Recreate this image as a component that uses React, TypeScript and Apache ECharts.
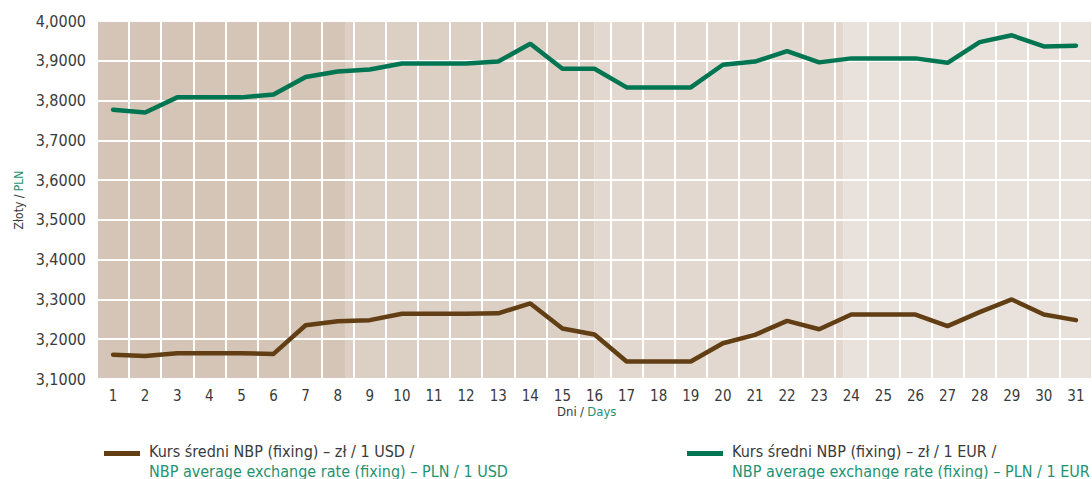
import React, { useEffect, useRef } from "react";
import * as echarts from "echarts";

const days = ["1","2","3","4","5","6","7","8","9","10","11","12","13","14","15","16","17","18","19","20","21","22","23","24","25","26","27","28","29","30","31"];

const usd = [3.161,3.158,3.165,3.165,3.165,3.163,3.235,3.245,3.248,3.264,3.264,3.264,3.265,3.290,3.227,3.212,3.144,3.144,3.144,3.190,3.211,3.246,3.225,3.262,3.262,3.262,3.233,3.268,3.300,3.262,3.248];

const eur = [3.777,3.770,3.808,3.808,3.808,3.815,3.859,3.873,3.878,3.893,3.893,3.893,3.898,3.943,3.880,3.880,3.833,3.833,3.833,3.890,3.898,3.924,3.896,3.906,3.906,3.906,3.895,3.947,3.964,3.936,3.938];

const bandStarts = [0, 7.75, 15.5, 23.25];
const bandEnds = [7.75, 15.5, 23.25, 31];
const bandColors = ["#d5c5b7", "#dcd0c4", "#e2d8cf", "#e9e2dc"];

const usdName = "Kurs średni NBP (fixing) – zł / 1 USD /\nNBP average exchange rate (fixing) – PLN / 1 USD";
const eurName = "Kurs średni NBP (fixing) – zł / 1 EUR /\nNBP average exchange rate (fixing) – PLN / 1 EUR";

const FONT = "'Liberation Sans Narrow', 'DejaVu Sans Condensed', 'Roboto Condensed', sans-serif";
const DARK = "#3a3a3a";
const GREEN_TXT = "#1f9272";
const BROWN = "#623e14";
const GREEN = "#007552";

const legendIcon = "path://M0 0H36V5H0Z M0 20";

function legendBase(name: string, left: number) {
  return {
    data: [name],
    left,
    top: 438,
    orient: "horizontal",
    icon: legendIcon,
    itemWidth: 36,
    itemHeight: 20,
    selectedMode: false,
    formatter: (n: string) => {
      const [a, b] = n.split("\n");
      return `{a|${a}}\n{b|${b}}`;
    },
    textStyle: {
      fontFamily: FONT,
      rich: {
        a: { color: DARK, fontSize: 16, lineHeight: 20, fontFamily: FONT, padding: [0, 0, 0, 4] },
        b: { color: GREEN_TXT, fontSize: 16, lineHeight: 20, fontFamily: FONT, padding: [0, 0, 0, 4] },
      },
    },
  };
}

export default function App() {
  const ref = useRef<HTMLDivElement>(null);
  useEffect(() => {
    document.body.style.margin = "0";
    const chart = echarts.init(ref.current!, undefined, { renderer: "svg" });
    const yMin = 3.1;
    const yMax = 4.0;
    chart.setOption({
      animation: false,
      backgroundColor: "#ffffff",
      textStyle: { fontFamily: FONT },
      grid: { left: 97, right: 0, top: 21, bottom: 100, containLabel: false },
      legend: [legendBase(usdName, 99), legendBase(eurName, 682)],
      xAxis: [
        {
          type: "category",
          data: days,
          boundaryGap: true,
          axisLine: { show: false },
          axisTick: { show: false },
          axisLabel: { color: DARK, fontSize: 15, margin: 9, fontFamily: FONT, interval: 0 },
          splitLine: { show: true, interval: 0, lineStyle: { color: "#ffffff", width: 2 } },
          z: 1,
        },
        { type: "value", min: 0, max: 31, show: false },
      ],
      yAxis: {
        type: "value",
        min: yMin,
        max: yMax,
        interval: 0.1,
        axisLine: { show: false },
        axisTick: { show: false },
        axisLabel: {
          color: DARK,
          fontSize: 16,
          margin: 11,
          fontFamily: FONT,
          formatter: (v: number) => v.toFixed(4).replace(".", ","),
        },
        splitLine: { show: true, lineStyle: { color: "#ffffff", width: 2 } },
        name: "{a|Złoty} {s|/} {b|PLN}",
        nameLocation: "middle",
        nameRotate: 90,
        nameGap: 71,
        nameTextStyle: {
          fontFamily: FONT,
          rich: {
            a: { color: DARK, fontSize: 12, fontFamily: FONT },
            s: { color: DARK, fontSize: 12, fontFamily: FONT },
            b: { color: GREEN_TXT, fontSize: 12, fontFamily: FONT },
          },
        },
        z: 1,
      },
      graphic: [
        {
          type: "text",
          left: 557,
          top: 405,
          style: {
            text: "{a|Dni} {s|/} {b|Days}",
            rich: {
              a: { fill: DARK, fontSize: 13, fontFamily: FONT },
              s: { fill: DARK, fontSize: 13, fontFamily: FONT },
              b: { fill: GREEN_TXT, fontSize: 13, fontFamily: FONT },
            },
          },
        },
      ],
      series: [
        {
          type: "custom",
          name: "bands",
          xAxisIndex: 1,
          yAxisIndex: 0,
          silent: true,
          z: -1,
          data: bandStarts.map((s, i) => [s, bandEnds[i]]),
          encode: { x: [0, 1] },
          renderItem: (params: any, api: any) => {
            const p0 = api.coord([api.value(0), yMax]);
            const p1 = api.coord([api.value(1), yMin]);
            return {
              type: "rect",
              shape: { x: p0[0], y: p0[1], width: p1[0] - p0[0], height: p1[1] - p0[1] },
              style: { fill: bandColors[params.dataIndex] },
            };
          },
        },
        {
          type: "line",
          name: usdName,
          data: usd,
          color: BROWN,
          symbol: "none",
          lineStyle: { color: BROWN, width: 4.5, cap: "round" },
          itemStyle: { color: BROWN },
          z: 3,
        },
        {
          type: "line",
          name: eurName,
          data: eur,
          color: GREEN,
          symbol: "none",
          lineStyle: { color: GREEN, width: 4.5, cap: "round" },
          itemStyle: { color: GREEN },
          z: 3,
        },
      ],
    });
    return () => chart.dispose();
  }, []);
  return <div ref={ref} style={{ width: 1092, height: 479 }} />;
}
